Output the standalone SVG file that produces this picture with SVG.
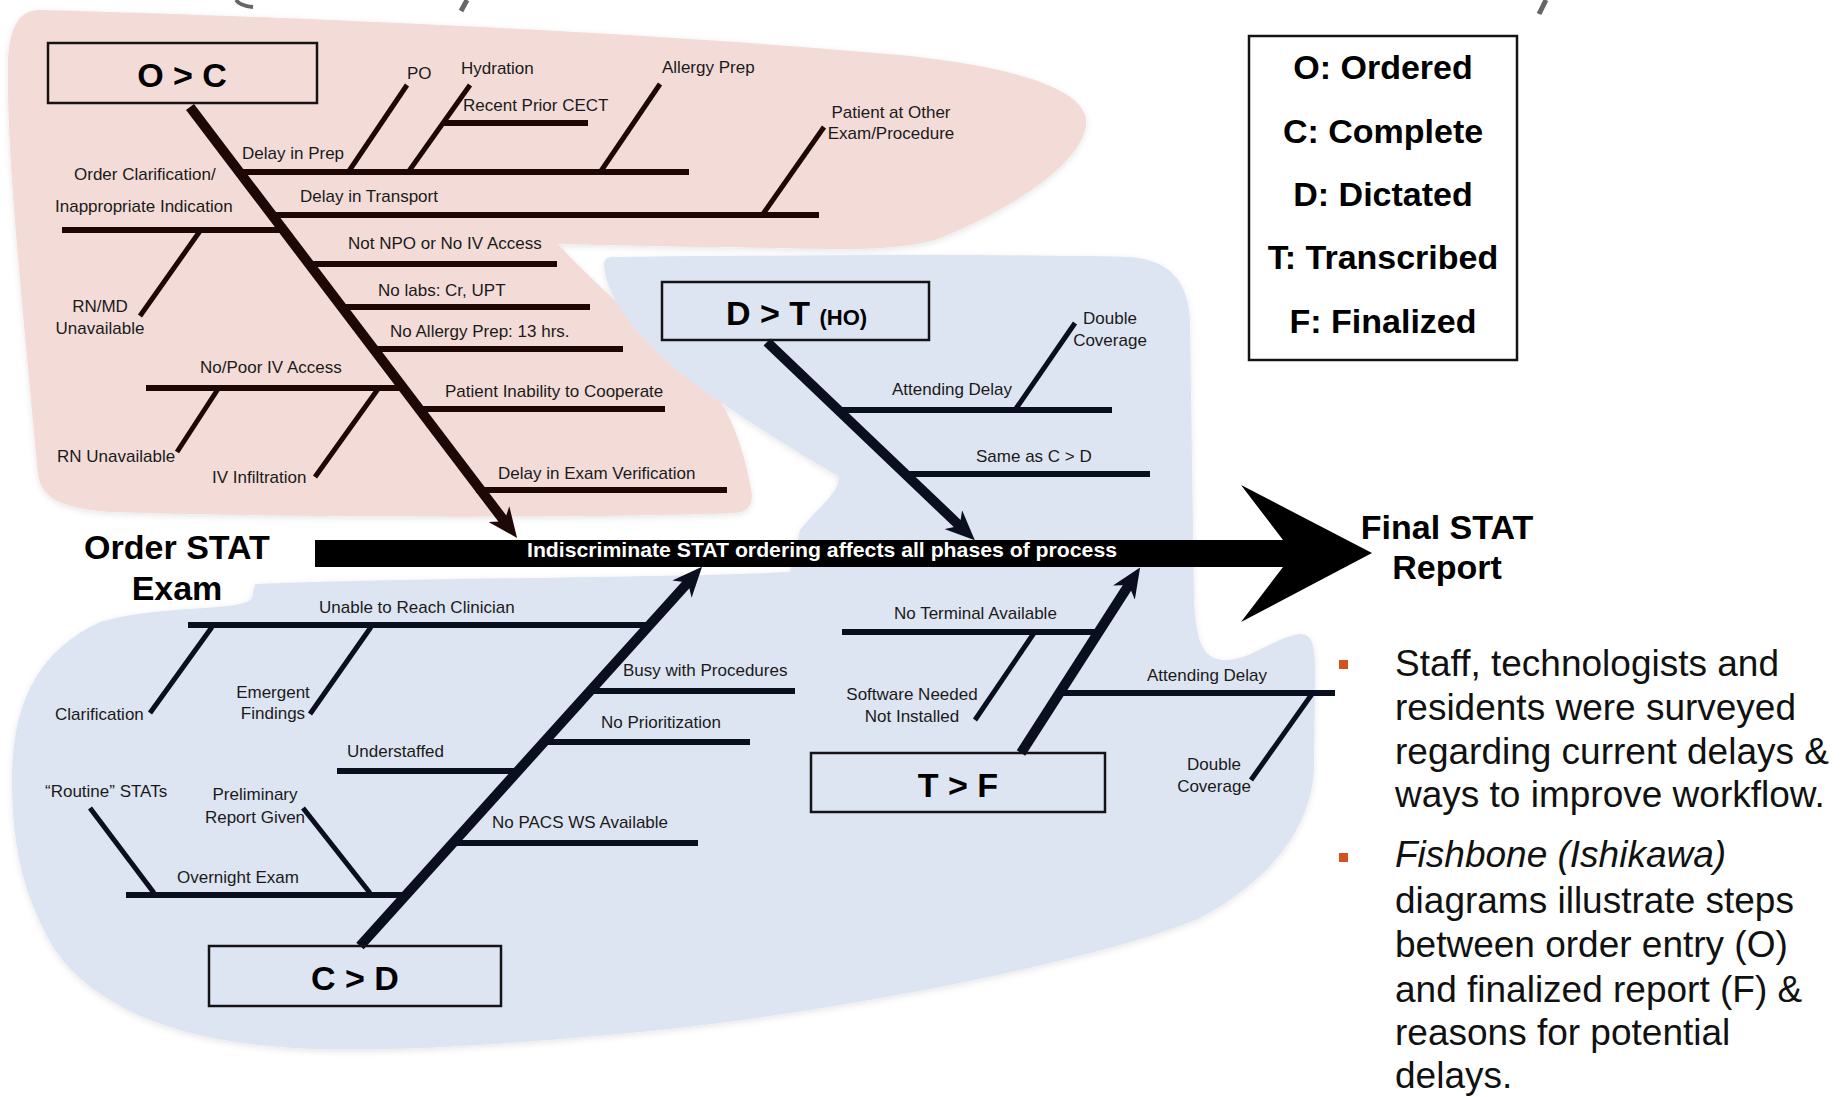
<svg xmlns="http://www.w3.org/2000/svg" width="1845" height="1097" viewBox="0 0 1845 1097">
<defs>
<style>
.lbl{font-family:"Liberation Sans",Arial,sans-serif;font-size:17px;fill:#1a1a1a}
.mid{text-anchor:middle}
.big{font-family:"Liberation Sans",Arial,sans-serif;font-weight:bold;fill:#000;text-anchor:middle}
.box{fill:none;stroke:#141414;stroke-width:2.5}
.pk{stroke:#1e0806;fill:none}
.bl{stroke:#0a0f1f;fill:none}
.dg{stroke-width:10}
.hz{stroke-width:6}
.sl{stroke-width:5}
.bul{font-family:"Liberation Sans",Arial,sans-serif;font-size:37px;fill:#111}
</style>
<filter id="sh" x="-5%" y="-5%" width="110%" height="110%">
<feDropShadow dx="0" dy="2" stdDeviation="3" flood-color="#000" flood-opacity="0.1"/>
</filter>
<marker id="ahP" viewBox="0 0 30 26" refX="15" refY="13" markerWidth="30" markerHeight="26" markerUnits="userSpaceOnUse" orient="auto">
<path d="M0,0 L30,13 L0,26 L9,13 Z" fill="#1e0806"/>
</marker>
<marker id="ahB" viewBox="0 0 30 26" refX="15" refY="13" markerWidth="30" markerHeight="26" markerUnits="userSpaceOnUse" orient="auto">
<path d="M0,0 L30,13 L0,26 L9,13 Z" fill="#0a0f1f"/>
</marker>
</defs>
<rect width="1845" height="1097" fill="#fff"/>

<!-- top gray fragments -->
<g fill="none" stroke="#666" stroke-linecap="butt">
<path d="M236,0 Q240,6 253,7" stroke-width="4"/>
<path d="M467,0 L461,11" stroke-width="5"/>
<path d="M1546,0 L1539,14" stroke-width="5"/>
</g>

<!-- background regions -->
<g id="regions" filter="url(#sh)">
<path id="pink-region" fill="#f3dcd7" d="M40,10 C200,14 600,28 900,55 C1050,70 1095,100 1085,130 C1075,170 1000,215 935,240 C880,255 800,247 700,247 L558,244 C600,290 660,340 708,383 C730,410 745,450 752,495 C752,508 745,512 735,513 C600,518 300,518 110,512 C60,508 42,498 38,475 C22,300 6,150 8,60 C10,25 20,10 40,10 Z"/>
<path id="blue-region" fill="#dee5f2" d="M255,584 C400,578 650,578 790,572 L800,530 C820,505 842,490 838,476 C760,430 690,385 655,350 C625,320 606,292 604,265 C604,258 608,257 615,257 C800,255 1000,254 1130,257 C1170,260 1188,282 1190,320 L1194,600 C1196,640 1202,660 1225,660 C1252,660 1272,638 1300,634 C1312,634 1315,645 1315,670 L1314,770 C1310,830 1270,880 1200,918 C1100,960 850,1010 660,1030 C480,1048 340,1055 260,1045 C160,1035 90,1000 55,950 C25,900 12,850 12,780 C12,700 40,650 100,622 C160,604 245,612 252,598 Z"/>
</g>

<!-- spine -->
<g id="spine">
<rect x="315" y="540" width="970" height="27" fill="#000"/>
<polygon points="1241,485 1372,553 1241,622 1283,567 1283,540" fill="#000"/>
<text x="527" y="557" textLength="590" lengthAdjust="spacingAndGlyphs" style="font-family:'Liberation Sans',Arial,sans-serif;font-weight:bold;font-size:21px;fill:#fff">Indiscriminate STAT ordering affects all phases of process</text>
</g>

<!-- connectors / bones -->
<g id="connectors">
<!-- O > C -->
<line class="pk dg" x1="190" y1="107" x2="508" y2="526" marker-end="url(#ahP)"/>
<line class="pk hz" x1="236" y1="172" x2="689" y2="172"/>
<line class="pk hz" x1="268" y1="215" x2="819" y2="215"/>
<line class="pk hz" x1="62" y1="230" x2="284" y2="230"/>
<line class="pk hz" x1="305" y1="264" x2="557" y2="264"/>
<line class="pk hz" x1="338" y1="307" x2="590" y2="307"/>
<line class="pk hz" x1="370" y1="349" x2="623" y2="349"/>
<line class="pk hz" x1="146" y1="388" x2="403" y2="388"/>
<line class="pk hz" x1="415" y1="409" x2="665" y2="409"/>
<line class="pk hz" x1="476" y1="490" x2="727" y2="490"/>
<line class="pk sl" x1="349" y1="171" x2="407" y2="85"/>
<line class="pk sl" x1="409" y1="171" x2="470" y2="85"/>
<line class="pk hz" x1="443" y1="123" x2="588" y2="123"/>
<line class="pk sl" x1="601" y1="171" x2="660" y2="84"/>
<line class="pk sl" x1="763" y1="214" x2="824" y2="127"/>
<line class="pk sl" x1="200" y1="231" x2="140" y2="316"/>
<line class="pk sl" x1="218" y1="389" x2="177" y2="452"/>
<line class="pk sl" x1="378" y1="389" x2="315" y2="477"/>
<!-- D > T -->
<line class="bl dg" x1="767" y1="342" x2="964" y2="530" marker-end="url(#ahB)"/>
<line class="bl hz" x1="836" y1="410" x2="1112" y2="410"/>
<line class="bl sl" x1="1015" y1="410" x2="1075" y2="323"/>
<line class="bl hz" x1="904" y1="474" x2="1150" y2="474"/>
<!-- C > D -->
<line class="bl dg" x1="360" y1="946" x2="692" y2="578" marker-end="url(#ahB)"/>
<line class="bl hz" x1="188" y1="625" x2="652" y2="625"/>
<line class="bl sl" x1="212" y1="627" x2="150" y2="713"/>
<line class="bl sl" x1="371" y1="627" x2="310" y2="714"/>
<line class="bl hz" x1="590" y1="691" x2="795" y2="691"/>
<line class="bl hz" x1="543" y1="742" x2="750" y2="742"/>
<line class="bl hz" x1="337" y1="771" x2="520" y2="771"/>
<line class="bl hz" x1="452" y1="843" x2="698" y2="843"/>
<line class="bl hz" x1="126" y1="895" x2="408" y2="895"/>
<line class="bl sl" x1="154" y1="893" x2="90" y2="808"/>
<line class="bl sl" x1="370" y1="893" x2="303" y2="808"/>
<!-- T > F -->
<line class="bl dg" x1="1021" y1="753" x2="1132" y2="580" marker-end="url(#ahB)"/>
<line class="bl hz" x1="842" y1="632" x2="1100" y2="632"/>
<line class="bl sl" x1="1034" y1="633" x2="975" y2="720"/>
<line class="bl hz" x1="1057" y1="693" x2="1335" y2="693"/>
<line class="bl sl" x1="1312" y1="694" x2="1251" y2="780"/>
</g>

<!-- cause labels -->
<g id="labels-oc">
<text class="lbl" x="242" y="159">Delay in Prep</text>
<text class="lbl" x="300" y="202">Delay in Transport</text>
<text class="lbl" x="74" y="180">Order Clarification/</text>
<text class="lbl" x="55" y="212">Inappropriate Indication</text>
<text class="lbl mid" x="100" y="312">RN/MD</text>
<text class="lbl mid" x="100" y="334">Unavailable</text>
<text class="lbl" x="407" y="79">PO</text>
<text class="lbl" x="461" y="74">Hydration</text>
<text class="lbl" x="463" y="111">Recent Prior CECT</text>
<text class="lbl" x="662" y="73">Allergy Prep</text>
<text class="lbl mid" x="891" y="118">Patient at Other</text>
<text class="lbl mid" x="891" y="139">Exam/Procedure</text>
<text class="lbl" x="348" y="249">Not NPO or No IV Access</text>
<text class="lbl" x="378" y="296">No labs: Cr, UPT</text>
<text class="lbl" x="390" y="337">No Allergy Prep: 13 hrs.</text>
<text class="lbl" x="200" y="373">No/Poor IV Access</text>
<text class="lbl" x="57" y="462">RN Unavailable</text>
<text class="lbl" x="212" y="483">IV Infiltration</text>
<text class="lbl" x="445" y="397">Patient Inability to Cooperate</text>
<text class="lbl" x="498" y="479">Delay in Exam Verification</text>
</g>
<g id="labels-dt">
<text class="lbl" x="892" y="395">Attending Delay</text>
<text class="lbl mid" x="1110" y="324">Double</text>
<text class="lbl mid" x="1110" y="346">Coverage</text>
<text class="lbl" x="976" y="462">Same as C &gt; D</text>
</g>
<g id="labels-cd">
<text class="lbl" x="319" y="613">Unable to Reach Clinician</text>
<text class="lbl" x="55" y="720">Clarification</text>
<text class="lbl mid" x="273" y="698">Emergent</text>
<text class="lbl mid" x="273" y="719">Findings</text>
<text class="lbl" x="623" y="676">Busy with Procedures</text>
<text class="lbl" x="601" y="728">No Prioritization</text>
<text class="lbl" x="347" y="757">Understaffed</text>
<text class="lbl" x="492" y="828">No PACS WS Available</text>
<text class="lbl" x="45" y="797">“Routine” STATs</text>
<text class="lbl mid" x="255" y="800">Preliminary</text>
<text class="lbl mid" x="255" y="823">Report Given</text>
<text class="lbl" x="177" y="883">Overnight Exam</text>
</g>
<g id="labels-tf">
<text class="lbl" x="894" y="619">No Terminal Available</text>
<text class="lbl mid" x="912" y="700">Software Needed</text>
<text class="lbl mid" x="912" y="722">Not Installed</text>
<text class="lbl" x="1147" y="681">Attending Delay</text>
<text class="lbl mid" x="1214" y="770">Double</text>
<text class="lbl mid" x="1214" y="792">Coverage</text>
</g>

<!-- category nodes -->
<g id="node-oc">
<rect class="box" x="48" y="43" width="269" height="60"/>
<text class="big" x="182" y="87" font-size="34">O &gt; C</text>
</g>
<g id="node-dt">
<rect class="box" x="662" y="282" width="267" height="58"/>
<text x="726" y="325" style="font-family:'Liberation Sans',Arial,sans-serif;font-weight:bold;font-size:34px;fill:#000">D &gt; T <tspan font-size="22">(HO)</tspan></text>
</g>
<g id="node-tf">
<rect class="box" x="811" y="753" width="294" height="59"/>
<text class="big" x="958" y="797" font-size="34">T &gt; F</text>
</g>
<g id="node-cd">
<rect class="box" x="209" y="946" width="292" height="60"/>
<text class="big" x="355" y="990" font-size="34">C &gt; D</text>
</g>

<g id="node-start">
<text class="big" x="177" y="559" font-size="34">Order STAT</text>
<text class="big" x="177" y="600" font-size="34">Exam</text>
</g>
<g id="node-end">
<text class="big" x="1447" y="539" font-size="34">Final STAT</text>
<text class="big" x="1447" y="579" font-size="34">Report</text>
</g>

<g id="legend">
<rect x="1249" y="36" width="268" height="324" fill="#fff" stroke="#141414" stroke-width="2.5"/>
<text class="big" x="1383" y="79" font-size="34">O: Ordered</text>
<text class="big" x="1383" y="143" font-size="34">C: Complete</text>
<text class="big" x="1383" y="206" font-size="34">D: Dictated</text>
<text class="big" x="1383" y="269" font-size="34">T: Transcribed</text>
<text class="big" x="1383" y="333" font-size="34">F: Finalized</text>
</g>

<g id="notes">
<rect x="1339" y="660" width="9" height="9" fill="#d4531c"/>
<rect x="1339" y="853" width="9" height="9" fill="#d4531c"/>
<text class="bul" x="1395" y="676">Staff, technologists and</text>
<text class="bul" x="1395" y="720">residents were surveyed</text>
<text class="bul" x="1395" y="764">regarding current delays &amp;</text>
<text class="bul" x="1395" y="807">ways to improve workflow.</text>
<text class="bul" x="1395" y="867" font-style="italic">Fishbone (Ishikawa)</text>
<text class="bul" x="1395" y="913">diagrams illustrate steps</text>
<text class="bul" x="1395" y="957">between order entry (O)</text>
<text class="bul" x="1395" y="1002">and finalized report (F) &amp;</text>
<text class="bul" x="1395" y="1045">reasons for potential</text>
<text class="bul" x="1395" y="1088">delays.</text>
</g>
</svg>
